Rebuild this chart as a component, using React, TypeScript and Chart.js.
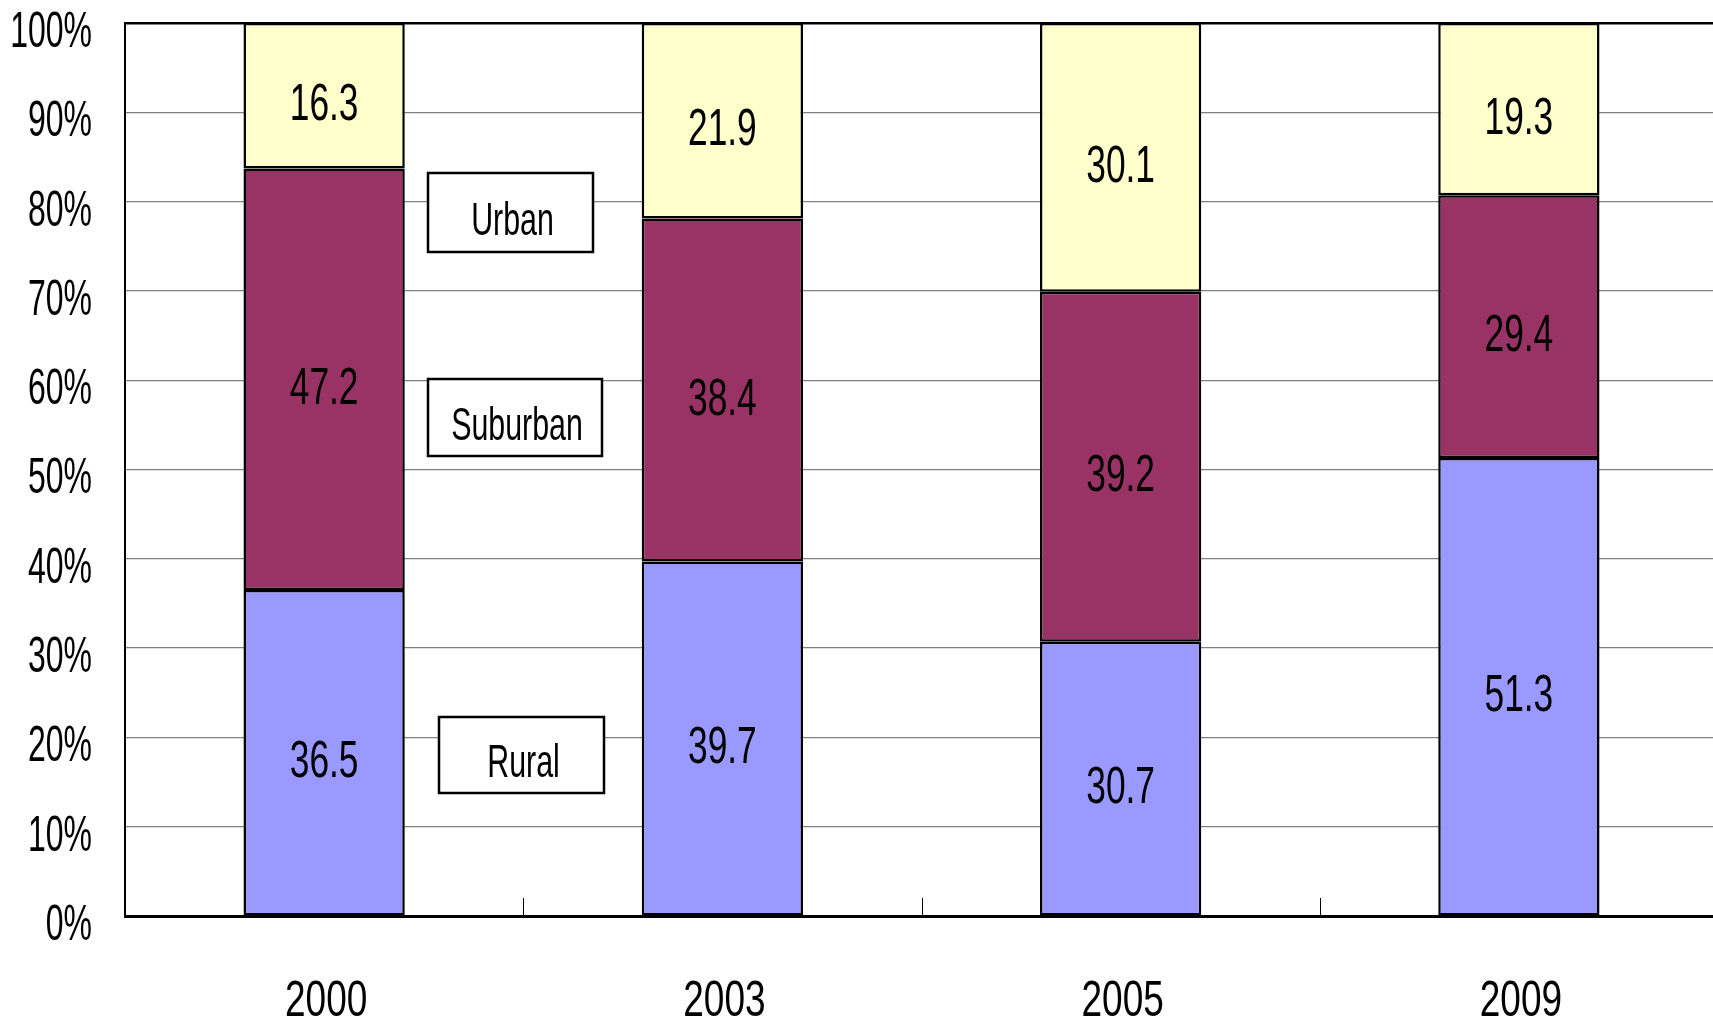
import React, { useEffect, useRef } from "react";
import { Chart, registerables } from "chart.js";

Chart.register(...registerables);

const categories = ["2000", "2003", "2005", "2009"];
const seriesNames = ["Rural", "Suburban", "Urban"];
const rural = [36.5, 39.7, 30.7, 51.3];
const suburban = [47.2, 38.4, 39.2, 29.4];
const urban = [16.3, 21.9, 30.1, 19.3];
const yTicks = [0, 10, 20, 30, 40, 50, 60, 70, 80, 90, 100];

const COLORS = ["#9999FF", "#993366", "#FFFFCC"];
const FONT = '"Liberation Sans", Arial, sans-serif';

// Annotation boxes naming each series (layout only)
const BOXES = [
  { series: 2, x1: 428, y1: 173, x2: 593, y2: 252 },
  { series: 1, x1: 428, y1: 379, x2: 602, y2: 456 },
  { series: 0, x1: 439, y1: 717, x2: 604, y2: 793 },
];

function drawText(
  ctx: CanvasRenderingContext2D,
  text: string,
  x: number,
  glyphCenterY: number,
  size: number,
  sx: number,
  align: "left" | "center" | "right"
) {
  ctx.save();
  ctx.font = `${size}px ${FONT}`;
  ctx.textBaseline = "alphabetic";
  ctx.textAlign = "left";
  ctx.fillStyle = "#000";
  const w = ctx.measureText(text).width * sx;
  const left = align === "center" ? x - w / 2 : align === "right" ? x - w : x;
  const baseline = glyphCenterY + 0.358 * size;
  ctx.translate(left, baseline);
  ctx.scale(sx, 1);
  ctx.fillText(text, 0, 0);
  ctx.restore();
}

const labelsPlugin = {
  id: "customLabels",
  afterDraw(chart: any) {
    const ctx: CanvasRenderingContext2D = chart.ctx;
    const xs = chart.scales.x;
    const ys = chart.scales.y;
    const area = chart.chartArea;

    // category boundary tick marks on the x axis
    ctx.save();
    ctx.strokeStyle = "#000";
    ctx.lineWidth = 1;
    for (let j = 0; j < categories.length - 1; j++) {
      const bx = (xs.getPixelForValue(j) + xs.getPixelForValue(j + 1)) / 2;
      ctx.beginPath();
      ctx.moveTo(Math.round(bx) + 0.5, area.bottom);
      ctx.lineTo(Math.round(bx) + 0.5, area.bottom - 18);
      ctx.stroke();
    }
    ctx.restore();

    // y tick labels
    yTicks.forEach((v) => {
      const y = ys.getPixelForValue(v);
      drawText(ctx, `${v}%`, 92, y + 6, 50, 0.64, "right");
    });

    // x category labels
    categories.forEach((c, j) => {
      const x = xs.getPixelForValue(j);
      drawText(ctx, c, x + 2, 998, 50, 0.74, "center");
    });

    // data labels
    chart.data.datasets.forEach((ds: any, i: number) => {
      const meta = chart.getDatasetMeta(i);
      meta.data.forEach((el: any, j: number) => {
        const p = el.getProps(["x", "y", "base"], true);
        const cy = (p.y + p.base) / 2;
        drawText(ctx, Number(ds.data[j]).toFixed(1), p.x, cy + 6, 52, 0.68, "center");
      });
    });

    // series name boxes
    BOXES.forEach((b) => {
      ctx.save();
      ctx.fillStyle = "#fff";
      ctx.fillRect(b.x1, b.y1, b.x2 - b.x1, b.y2 - b.y1);
      ctx.strokeStyle = "#000";
      ctx.lineWidth = 2.5;
      ctx.strokeRect(b.x1, b.y1, b.x2 - b.x1, b.y2 - b.y1);
      ctx.restore();
      drawText(
        ctx,
        seriesNames[b.series],
        (b.x1 + b.x2) / 2 + 2,
        (b.y1 + b.y2) / 2 + 6,
        46,
        0.66,
        "center"
      );
    });
  },
};

export default function App() {
  const ref = useRef<HTMLCanvasElement | null>(null);

  useEffect(() => {
    if (!ref.current) return;
    const seriesData = [rural, suburban, urban];
    const chart = new Chart(ref.current, {
      type: "bar",
      data: {
        labels: categories,
        datasets: seriesNames.map((name, i) => ({
          label: name,
          data: seriesData[i],
          backgroundColor: COLORS[i],
          borderColor: "#000",
          borderWidth: 2.5,
          borderSkipped: false as any,
          barPercentage: 0.405,
          categoryPercentage: 1,
        })),
      },
      options: {
        animation: false,
        responsive: false,
        devicePixelRatio: 1,
        layout: { padding: { left: 125, top: 23, right: 2, bottom: 108 } },
        plugins: {
          legend: { display: false },
          tooltip: { enabled: false },
        },
        scales: {
          x: {
            stacked: true,
            grid: { display: false, drawTicks: false },
            ticks: { display: false },
            border: { display: true, color: "#000", width: 3 },
          },
          y: {
            stacked: true,
            min: 0,
            max: 100,
            ticks: { display: false, stepSize: 10 },
            grid: {
              drawTicks: false,
              color: (c: any) => (c.tick && c.tick.value === 100 ? "#000" : "#808080"),
              lineWidth: (c: any) => (c.tick && c.tick.value === 100 ? 2.5 : 1.2),
            },
            border: { display: true, color: "#000", width: 2 },
          },
        },
      },
      plugins: [labelsPlugin],
    });
    return () => chart.destroy();
  }, []);

  return (
    <div
      style={{
        position: "fixed",
        left: 0,
        top: 0,
        width: 1713,
        height: 1024,
        overflow: "hidden",
        background: "#fff",
      }}
    >
      <canvas ref={ref} width={1720} height={1024} style={{ display: "block" }} />
    </div>
  );
}
